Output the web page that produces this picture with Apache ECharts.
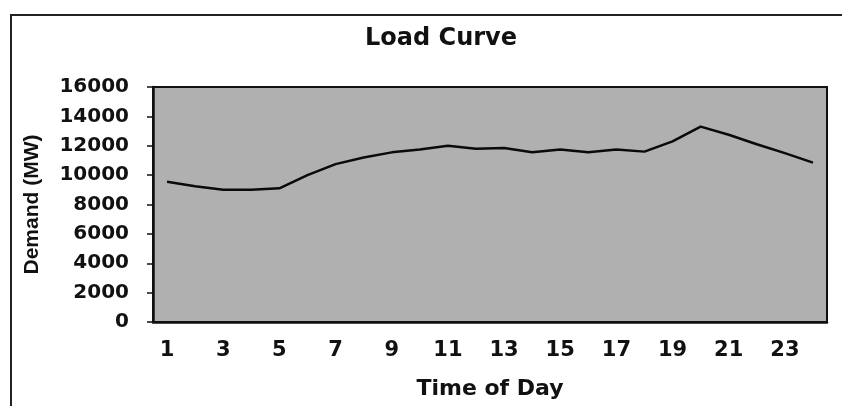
<!DOCTYPE html>
<html>
<head>
<meta charset="utf-8">
<style>
  html, body { margin: 0; padding: 0; background: #fff; }
  #chart { width: 842px; height: 406px; }
</style>
<script src="https://cdn.jsdelivr.net/npm/echarts@6/dist/echarts.min.js"></script>
</head>
<body>
<div id="chart"></div>
<script>
// hours of the day
const hours = ['1', '2', '3', '4', '5', '6', '7', '8', '9', '10', '11', '12',
  '13', '14', '15', '16', '17', '18', '19', '20', '21', '22', '23', '24'];
// demand in MW
const demand = [9550, 9250, 9000, 9000, 9100, 10000, 10750, 11200, 11550, 11750, 12000, 11800,
  11850, 11550, 11750, 11550, 11750, 11600, 12300, 13300, 12750, 12100, 11500, 10850];

const chart = echarts.init(document.getElementById('chart'));

const option = {
  animation: false,
  title: {
    text: 'Load Curve',
    left: 436,
    top: 22,
    textAlign: 'center',
    textStyle: { fontFamily: 'DejaVu Sans', fontWeight: 'bold', fontSize: 24, color: '#111' }
  },
  graphic: [
    {
      type: 'rect',
      shape: { x: 11, y: 15, width: 900, height: 500 },
      style: { fill: 'none', stroke: '#222', lineWidth: 2 },
      silent: true
    }
  ],
  grid: {
    left: 153,
    right: 15,
    top: 87,
    bottom: 84,
    show: true,
    backgroundColor: '#b0b0b0',
    borderColor: '#111',
    borderWidth: 2
  },
  xAxis: {
    type: 'category',
    data: hours,
    boundaryGap: true,
    name: 'Time of Day',
    nameLocation: 'middle',
    nameGap: 56,
    nameTextStyle: { fontFamily: 'DejaVu Sans', fontWeight: 'bold', fontSize: 22, color: '#111' },
    axisLine: { lineStyle: { color: '#111', width: 2.5 } },
    axisTick: { interval: 0, length: 5, lineStyle: { color: '#111', width: 1.5 } },
    axisLabel: {
      interval: 1,
      margin: 18,
      fontFamily: 'DejaVu Sans', fontWeight: 'bold', fontSize: 21, color: '#111'
    },
    splitLine: { show: false }
  },
  yAxis: {
    type: 'value',
    min: 0,
    max: 16000,
    interval: 2000,
    name: 'Demand (MW)',
    nameLocation: 'middle',
    nameRotate: 90,
    nameGap: 110,
    nameTextStyle: { fontFamily: 'Liberation Sans', fontWeight: 'bold', fontSize: 21, color: '#111' },
    axisLine: { show: true, lineStyle: { color: '#111', width: 2.5 } },
    axisTick: { show: true, length: 6, lineStyle: { color: '#111', width: 1.5 } },
    axisLabel: {
      margin: 24,
      formatter: v => String(v),
      fontFamily: 'DejaVu Sans', fontWeight: 'bold', fontSize: 20, color: '#111'
    },
    splitLine: { show: false }
  },
  series: [
    {
      type: 'line',
      data: demand,
      showSymbol: false,
      lineStyle: { color: '#0a0a0a', width: 2.5 }
    }
  ]
};

chart.setOption(option);
</script>
</body>
</html>
